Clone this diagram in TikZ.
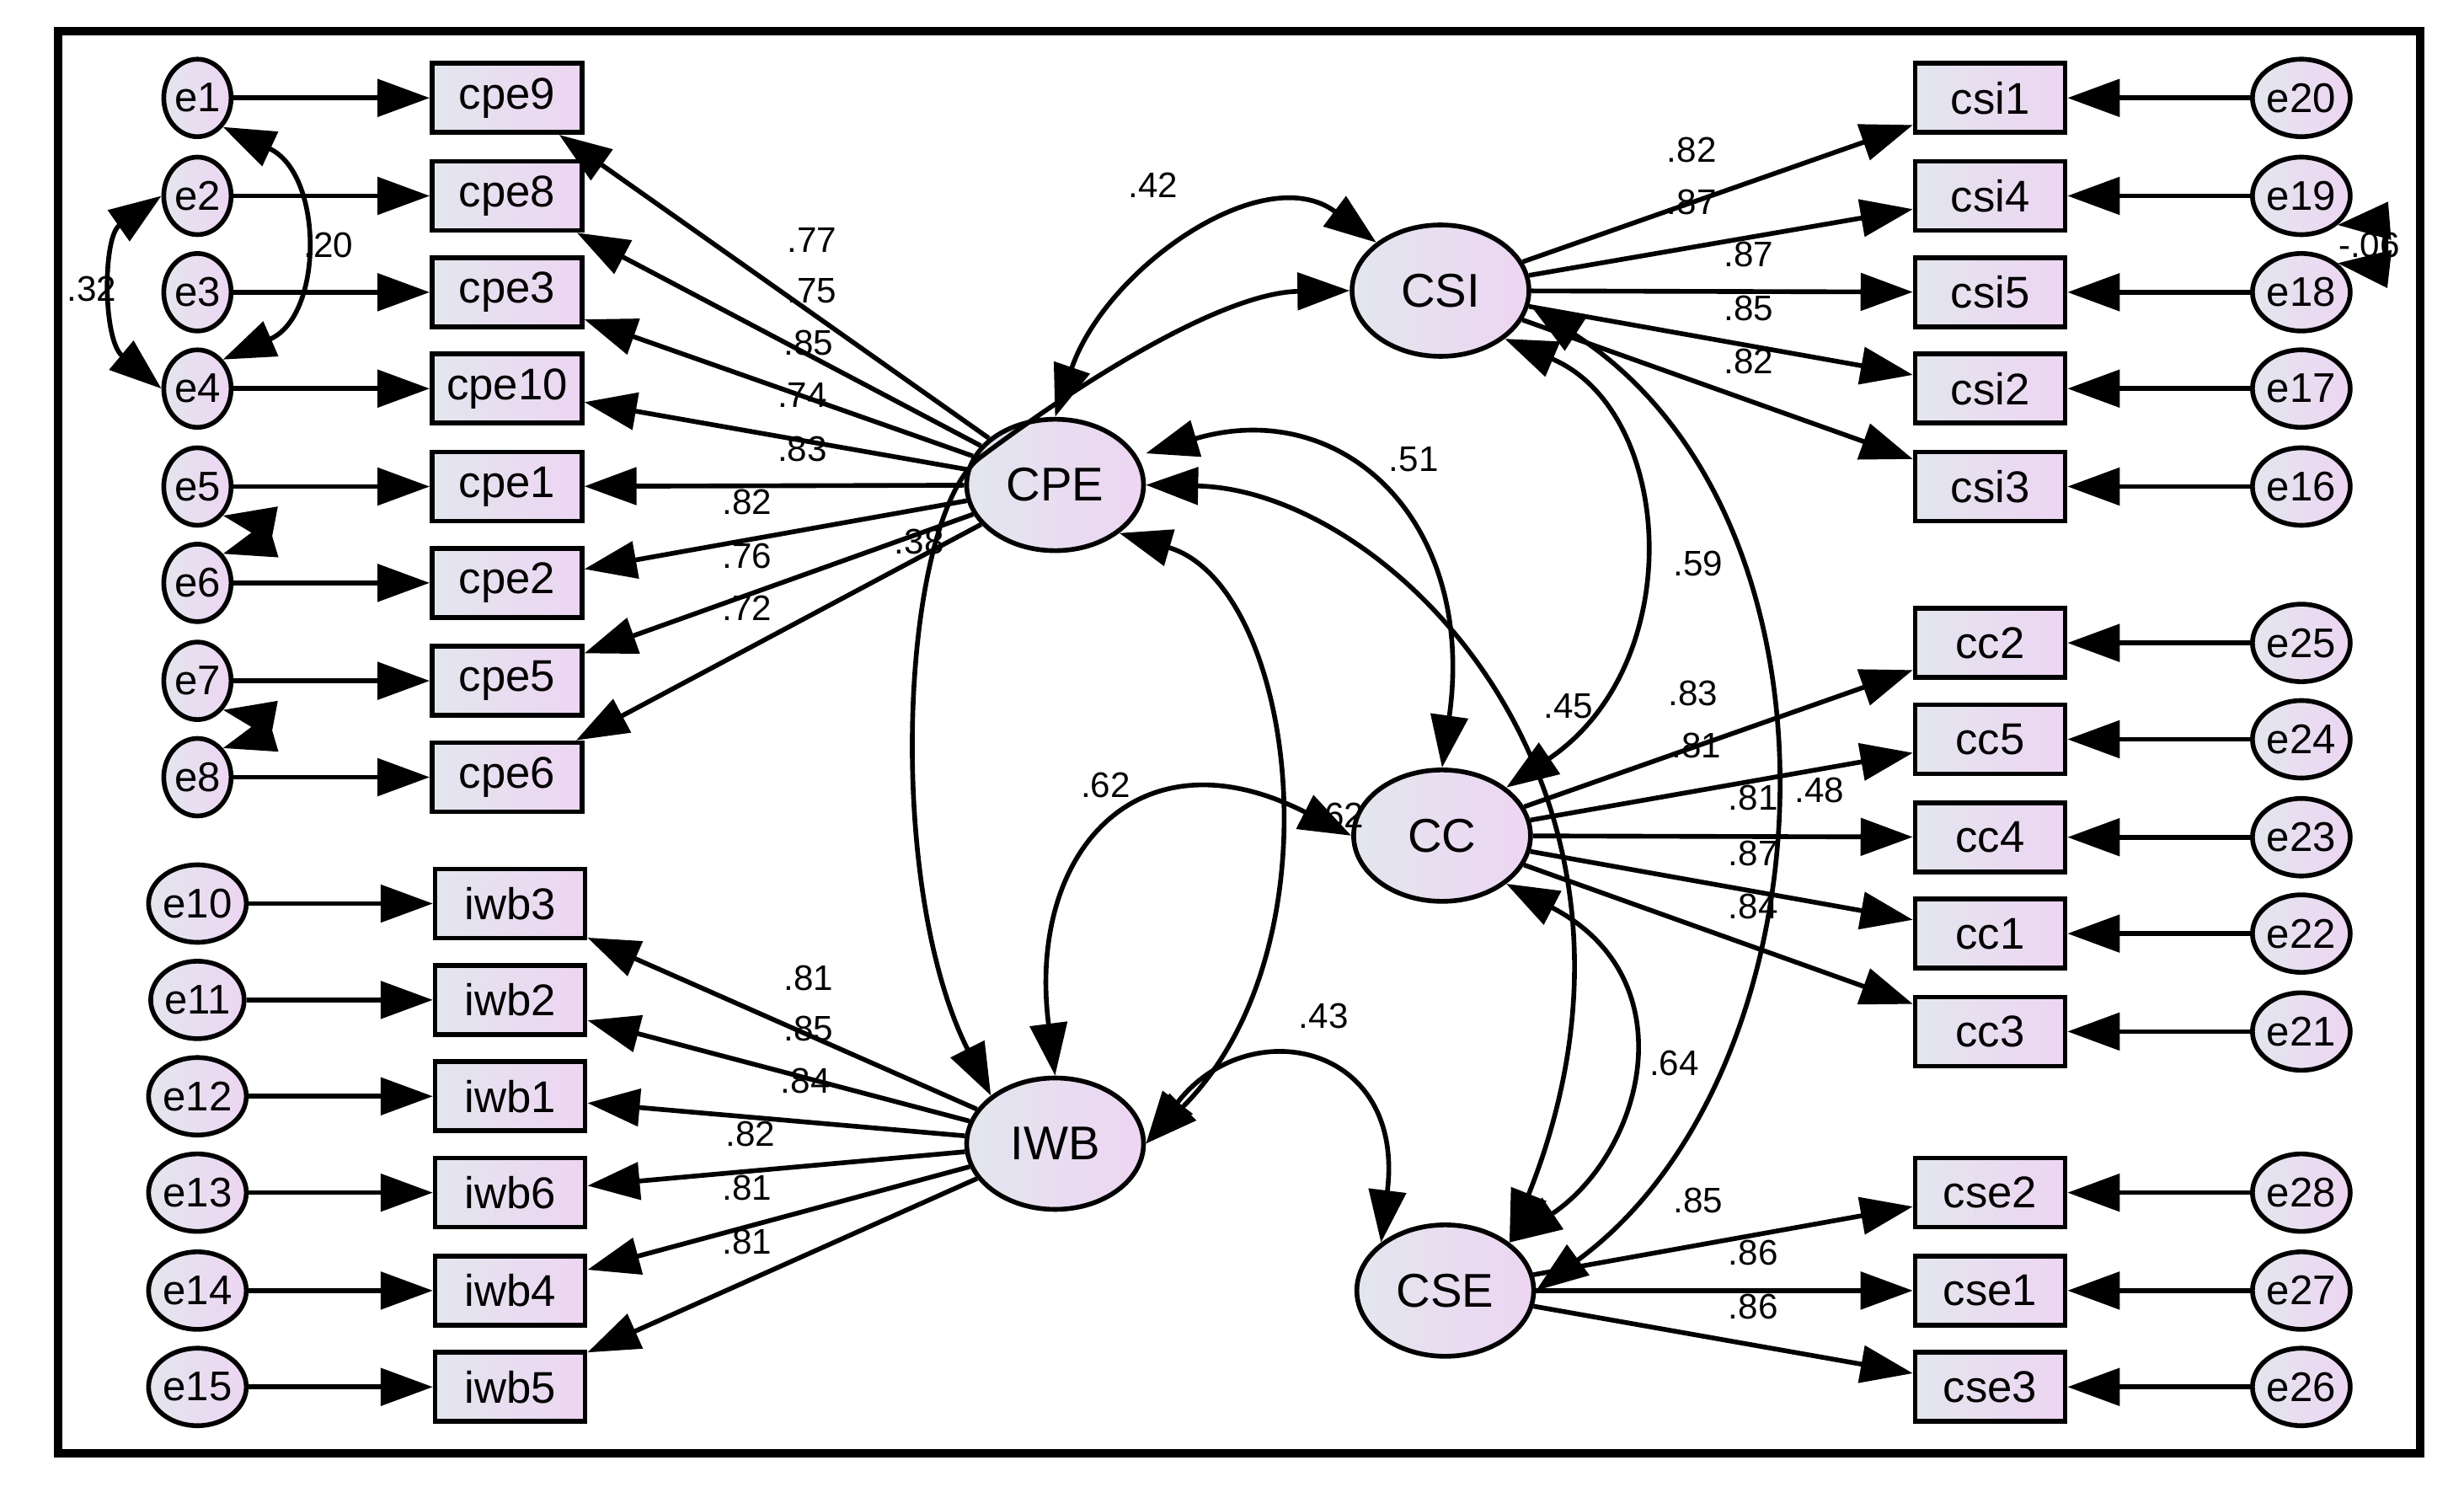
\documentclass[tikz,border=0pt]{standalone}
\usepackage{fontspec}
\setmainfont{Liberation Sans}
\usetikzlibrary{arrows.meta,shapes}
\definecolor{shadeL}{HTML}{E3E6EE}
\definecolor{shadeR}{HTML}{EDD5F2}
\begin{document}
\begin{tikzpicture}[x=0.01875cm,y=-0.01875cm,
  hd/.tip={Triangle[length=0.62cm,width=0.44cm]},
  path/.style={-hd,line width=1.6pt},
  cov/.style={hd-hd,line width=1.6pt},
  err/.style={ellipse,draw,line width=1.6pt,minimum width=0.8cm,minimum height=0.92cm,inner sep=0,left color=shadeL,right color=shadeR,font=\fontsize{14}{14}\selectfont},
  obs/.style={rectangle,draw,line width=1.6pt,minimum width=1.78cm,minimum height=0.82cm,inner sep=0,left color=shadeL,right color=shadeR,font=\fontsize{15}{15}\selectfont},
  lat/.style={ellipse,draw,line width=1.6pt,minimum width=2.1cm,minimum height=1.56cm,inner sep=0,left color=shadeL,right color=shadeR,font=\fontsize{16}{16}\selectfont},
  lbl/.style={inner sep=0,font=\fontsize{12}{12}\selectfont}]
\useasboundingbox (0,0) rectangle (1560,941);
\draw[line width=0.1cm] (37,20) rectangle (1532,920);
% Latent variables
\node[lat] (CPE) at (668,307) {CPE};
\node[lat] (IWB) at (668,724) {IWB};
\node[lat] (CSI) at (912,184) {CSI};
\node[lat] (CC) at (913,529) {CC};
\node[lat] (CSE) at (915,817) {CSE};
% Left indicators
\foreach \n/\e/\y in {cpe9/e1/62,cpe8/e2/124,cpe3/e3/185,cpe10/e4/246,cpe1/e5/308,cpe2/e6/369,cpe5/e7/431,cpe6/e8/492}{
  \node[err] (\e) at (125,\y) {\e};
  \node[obs] (\n) at (321,\y) {\n};
  \draw[path] (\e) -- (\n);
  \draw[path] (CPE) -- (\n);
}
\foreach \n/\e/\y in {iwb3/e10/572,iwb2/e11/633,iwb1/e12/694,iwb6/e13/755,iwb4/e14/817,iwb5/e15/878}{
  \node[err] (\e) at (125,\y) {\e};
  \node[obs] (\n) at (323,\y) {\n};
  \draw[path] (\e) -- (\n);
  \draw[path] (IWB) -- (\n);
}
% Right indicators
\foreach \n/\e/\y/\f in {csi1/e20/62/CSI,csi4/e19/124/CSI,csi5/e18/185/CSI,csi2/e17/246/CSI,csi3/e16/308/CSI,
  cc2/e25/407/CC,cc5/e24/468/CC,cc4/e23/530/CC,cc1/e22/591/CC,cc3/e21/653/CC,
  cse2/e28/755/CSE,cse1/e27/817/CSE,cse3/e26/878/CSE}{
  \node[err] (\e) at (1457,\y) {\e};
  \node[obs] (\n) at (1260,\y) {\n};
  \draw[path] (\e) -- (\n);
  \draw[path] (\f) -- (\n);
}
% Error covariances
\draw[cov] (e1.south east) .. controls (205,110) and (205,200) .. (e4.north east);
\draw[cov] (e2.west) .. controls (65,150) and (65,215) .. (e4.west);
\draw[cov] (e5.south east) .. controls (160,330) and (160,345) .. (e6.north east);
\draw[cov] (e7.south east) .. controls (160,453) and (160,468) .. (e8.north east);
\draw[cov] (e19.south east) .. controls (1510,140) and (1510,170) .. (e18.north east);
% Latent covariances
\draw[cov] (CPE.north) .. controls (700,170) and (800,100) .. (CSI.north west);
\draw[cov] (IWB.north west) .. controls (560,560) and (570,330) .. (620,290) .. controls (700,230) and (780,185) .. (CSI.west);
\draw[cov] (CPE.east) ++(0,-20) .. controls (850,250) and (935,330) .. (CC.north);
\draw[cov] (CPE.east) .. controls (880,310) and (1070,500) .. (CSE.north east);
\draw[cov] (CPE.south east) .. controls (820,370) and (850,600) .. (IWB.east);
\draw[cov] (IWB.north) .. controls (650,540) and (720,460) .. (CC.west);
\draw[cov] (IWB.east) .. controls (790,640) and (890,660) .. (CSE.north west);
\draw[cov] (CSI.south east) .. controls (1060,260) and (1070,420) .. (CC.north east);
\draw[cov] (CSI.east) ++(0,10) .. controls (1180,330) and (1160,680) .. (CSE.east);
\draw[cov] (CC.south east) .. controls (1070,620) and (1040,730) .. (CSE.north east);
% Loadings
\foreach \t/\x/\y in {.77/514/152,.75/514/184,.85/512/217,.74/508/250,.83/508/284,.82/473/318,.76/473/352,.72/473/385,
  .81/512/619,.85/512/651,.84/510/684,.82/475/718,.81/473/752,.81/473/786,
  .82/1071/95,.87/1071/128,.87/1107/161,.85/1107/195,.82/1107/229,
  .83/1072/439,.81/1074/472,.81/1110/505,.87/1110/540,.84/1110/574,
  .85/1075/760,.86/1110/793,.86/1110/827}
  \node[lbl] at (\x,\y) {\t};
% Correlations
\foreach \t/\x/\y in {.42/730/117,.51/895/291,.59/1075/357,.45/993/447,.62/700/497,.62/848/516,.43/838/643,.64/1060/673,.48/1152/500,.38/582/343,.20/208/155,.32/58/183,-.06/1500/155}
  \node[lbl] at (\x,\y) {\t};
\end{tikzpicture}
\end{document}
